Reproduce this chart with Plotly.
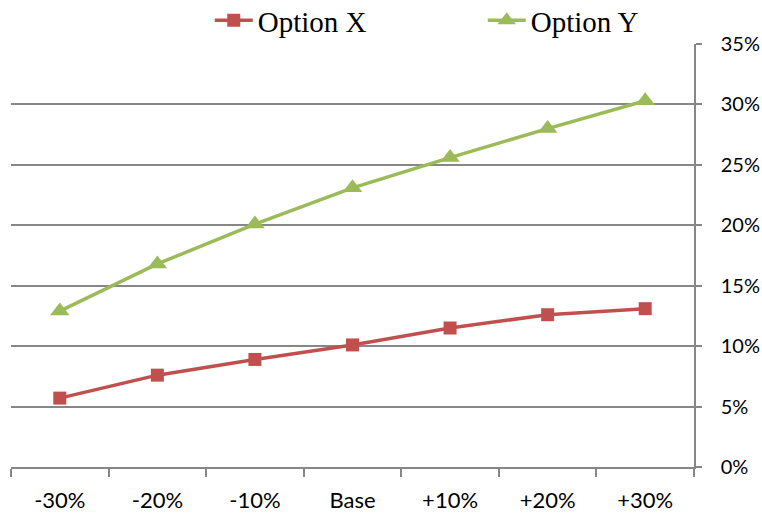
import plotly.graph_objects as go

# Sensitivity scenarios and results (percent)
scenarios = ["-30%", "-20%", "-10%", "Base", "+10%", "+20%", "+30%"]
option_x = [5.7, 7.6, 8.9, 10.1, 11.5, 12.6, 13.1]
option_y = [12.9, 16.8, 20.1, 23.1, 25.6, 28.0, 30.3]
y_ticks = [0, 5, 10, 15, 20, 25, 30, 35]

RED = "#C0504D"
GREEN = "#9BBB59"
GRID = "#878787"
X_FONT = dict(family="Lato, Open Sans, sans-serif", size=22, color="#000000")
Y_FONT = dict(family="Lato, Open Sans, sans-serif", size=20, color="#000000")

fig = go.Figure()
fig.add_trace(go.Scatter(
    x=scenarios, y=option_x, name="Option X", mode="lines+markers",
    line=dict(color=RED, width=3.5),
    marker=dict(symbol="square", size=13, color=RED),
))
fig.add_trace(go.Scatter(
    x=scenarios, y=option_y, name="Option Y", mode="lines+markers",
    line=dict(color=GREEN, width=3.5),
    marker=dict(symbol="triangle-up", size=17, color=GREEN),
))

fig.update_layout(
    width=762, height=515,
    margin=dict(l=11, r=68, t=44, b=48, autoexpand=False),
    paper_bgcolor="white", plot_bgcolor="white",
    showlegend=True,
    legend=dict(
        orientation="h", x=0.291, xanchor="left", y=1.116, yanchor="top",
        font=dict(family="Liberation Serif, Times New Roman, serif", size=29, color="#000000"),
        itemwidth=38, entrywidth=220, entrywidthmode="pixels",
        bgcolor="rgba(0,0,0,0)", tracegroupgap=0,
    ),
    xaxis=dict(
        type="category", categoryorder="array", categoryarray=scenarios,
        range=[-0.5, 6.5], tickson="boundaries",
        showgrid=False, zeroline=False,
        showline=True, linecolor=GRID, linewidth=1.5,
        ticks="outside", ticklen=8, tickcolor=GRID, tickwidth=1.5,
        tickfont=X_FONT, ticklabelstandoff=13,
    ),
    yaxis=dict(
        side="right", range=[0, 35], tickvals=y_ticks,
        ticktext=[f"{v}%" for v in y_ticks],
        showgrid=True, gridcolor=GRID, gridwidth=1.5,
        zeroline=False,
        showline=True, linecolor=GRID, linewidth=1.5,
        ticks="outside", ticklen=6, tickcolor=GRID, tickwidth=1.5,
        tickfont=Y_FONT, ticklabelstandoff=15,
    ),
)

fig.write_html("out.html")
